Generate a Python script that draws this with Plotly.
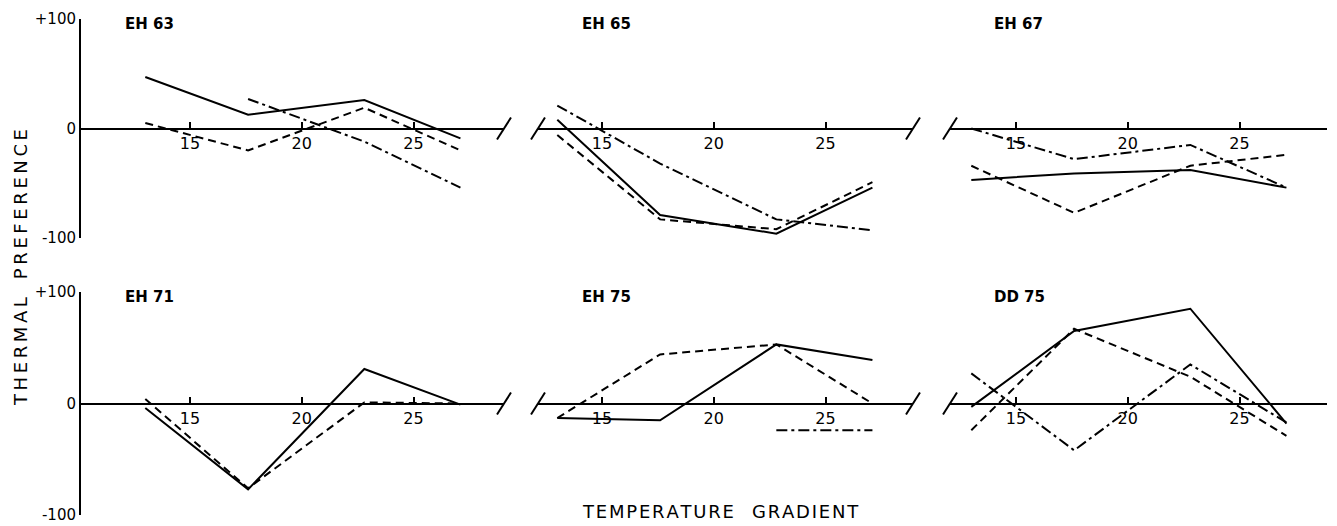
import plotly.graph_objects as go

# ---------------- data ----------------
temps = [13.0, 17.6, 22.8, 27.1]
panel_names = ["EH 63", "EH 65", "EH 67", "EH 71", "EH 75", "DD 75"]

eh63_solid = [47, 12.5, 26, -9]
eh63_dashed = [5, -20, 19, -20]
eh63_dashdot = [None, 27, -12, -54]

eh65_solid = [8, -79, -96, -54]
eh65_dashed = [-6, -83, -92, -49]
eh65_dashdot = [21, -32, -83, -93]

eh67_solid = [-47, -41, -38, -54]
eh67_dashed = [-34, -77, -34, -24]
eh67_dashdot = [0, -28, -15, -54]

eh71_solid = [-4, -77, 31, -1]
eh71_dashed = [4, -76, 1, 0]
eh71_dashdot = [None, None, None, None]

eh75_solid = [-13, -15, 53, 39]
eh75_dashed = [-13, 44, 53, 0]
eh75_dashdot = [None, None, -24, -24]

dd75_solid = [-3, 65, 85, -18]
dd75_dashed = [-24, 67, 24, -29]
dd75_dashdot = [27, -42, 35, -17]

x_ticks = [15, 20, 25]
y_ticks = [-100, 0, 100]
y_ticktext = ["-100", "0", "+100"]
y_title = "THERMAL PREFERENCE"
x_title = "TEMPERATURE GRADIENT"

panels = [
    (eh63_solid, eh63_dashed, eh63_dashdot),
    (eh65_solid, eh65_dashed, eh65_dashdot),
    (eh67_solid, eh67_dashed, eh67_dashdot),
    (eh71_solid, eh71_dashed, eh71_dashdot),
    (eh75_solid, eh75_dashed, eh75_dashdot),
    (dd75_solid, dd75_dashed, dd75_dashdot),
]

# ---------------- layout geometry ----------------
OFF = 8                      # page body margin
FW, FH = 1337 - OFF, 526 - OFF
FONT = "DejaVu Sans"


def px2x(px):
    return (px - OFF) / FW


def py2y(py):
    return 1 - (py - OFF) / FH


col_px = [(81, 504), (538, 913), (950, 1327)]       # x-domain in page pixels
col_15_px = [190, 602, 1016]                        # page pixel of x=15
px_per_unit = 22.35
row_px = [(19, 238), (292, 515)]                    # y-domain (top, bottom) in page pixels

styles = ["solid", "8px,5px", "11px,4px,3px,4px"]


def spaced(s, sep):
    return sep.join(list(s))


fig = go.Figure()
layout = dict(
    width=FW, height=FH,
    paper_bgcolor="white", plot_bgcolor="white",
    margin=dict(l=0, r=0, t=0, b=0),
    showlegend=False,
    font=dict(family=FONT, color="black"),
)
shapes = []
annotations = []

for i, series in enumerate(panels):
    r, c = divmod(i, 3)
    n = i + 1
    xa = "x" if n == 1 else f"x{n}"
    ya = "y" if n == 1 else f"y{n}"
    xkey = "xaxis" if n == 1 else f"xaxis{n}"
    ykey = "yaxis" if n == 1 else f"yaxis{n}"

    x0p, x1p = col_px[c]
    top, bot = row_px[r]
    xr = [15 - (col_15_px[c] - x0p) / px_per_unit, 15 + (x1p - col_15_px[c]) / px_per_unit]
    xd = [px2x(x0p), px2x(x1p)]
    yd = [py2y(bot), py2y(top)]
    zero_paper = (yd[0] + yd[1]) / 2

    for vals, dash in zip(series, styles):
        if all(v is None for v in vals):
            continue
        fig.add_trace(go.Scatter(
            x=temps, y=vals, mode="lines", xaxis=xa, yaxis=ya,
            line=dict(color="black", width=2, dash=dash),
            connectgaps=False, hoverinfo="skip",
        ))

    layout[xkey] = dict(
        domain=xd, range=xr, anchor="free", position=zero_paper,
        showline=True, linecolor="black", linewidth=2,
        ticks="inside", ticklen=6, tickwidth=1.5, tickcolor="black",
        tickvals=x_ticks, tickfont=dict(size=16, family=FONT),
        showgrid=False, zeroline=False, automargin=False, fixedrange=True,
    )
    ykw = dict(
        domain=yd, range=[-100, 100], anchor=xa,
        showgrid=False, zeroline=False, automargin=False, fixedrange=True,
    )
    if c == 0:
        ykw.update(showline=True, linecolor="black", linewidth=2,
                   ticks="inside", ticklen=6, tickwidth=2, tickcolor="black",
                   tickvals=y_ticks, ticktext=y_ticktext,
                   tickfont=dict(size=15, family=FONT))
    else:
        ykw.update(visible=False)
    layout[ykey] = ykw

    # panel title
    annotations.append(dict(
        text="<b>" + panel_names[i] + "</b>", xref="paper", yref="paper",
        x=px2x(x0p + 42), y=py2y(top + 5), xanchor="left", yanchor="middle",
        showarrow=False, font=dict(size=15, family=FONT, color="black"),
    ))

    # axis break marks at the ends of the zero line
    zero_px = (top + bot) / 2
    ends = []
    if c > 0:
        ends.append(x0p)
    if c < 2:
        ends.append(x1p)
    for ex in ends:
        shapes.append(dict(
            type="line", xref="paper", yref="paper",
            x0=px2x(ex - 7), y0=py2y(zero_px + 11),
            x1=px2x(ex + 7), y1=py2y(zero_px - 11),
            line=dict(color="black", width=2),
        ))

annotations.append(dict(
    text=spaced("THERMAL", "\u2009") + "\u2003" + spaced("PREFERENCE", "\u2009"),
    xref="paper", yref="paper", x=px2x(20), y=py2y(268),
    textangle=-90, showarrow=False, xanchor="center", yanchor="middle",
    font=dict(size=18, family=FONT, color="black"),
))
annotations.append(dict(
    text=spaced("TEMPERATURE", "\u200a") + "\u2003" + spaced("GRADIENT", "\u200a"),
    xref="paper", yref="paper", x=px2x(720), y=py2y(511),
    showarrow=False, xanchor="center", yanchor="middle",
    font=dict(size=18, family=FONT, color="black"),
))

layout["shapes"] = shapes
layout["annotations"] = annotations
fig.update_layout(**layout)
fig.write_html("out.html")
